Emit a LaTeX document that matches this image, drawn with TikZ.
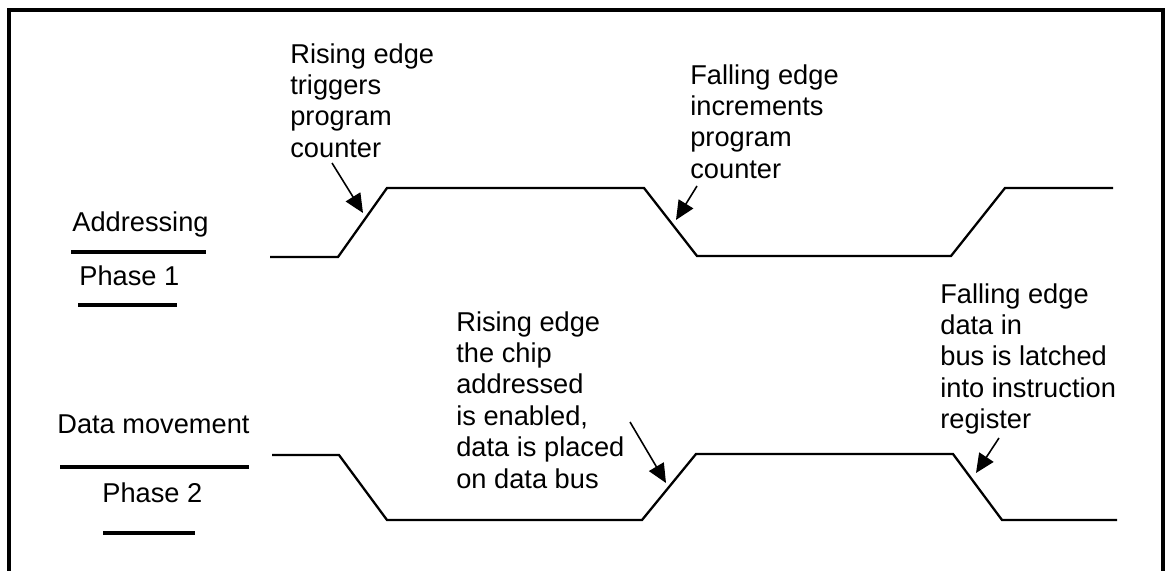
\documentclass[tikz,border=0pt]{standalone}
\usepackage{fontspec}
\setmainfont{Liberation Sans}
\usepackage{tikz}
\usetikzlibrary{arrows.meta, positioning, calc}
\tikzset{
  lbl/.style={inner sep=0pt, font=\fontsize{15.5}{17.9}\selectfont},
  note/.style={lbl, anchor=north west, align=left},
  phase/.style={lbl, anchor=base west},
  wave/.style={line width=1.3pt, line join=miter},
  uline/.style={line width=2pt},
  frame/.style={line width=1.8pt},
  ptr/.style={-{Triangle[length=0.38cm, width=0.34cm]}, line width=0.9pt},
}

\begin{document}
\begin{tikzpicture}[x=0.02cm, y=-0.02cm]
  \useasboundingbox (0,0) rectangle (1167,571);
  \draw[frame] (9,571) -- (9,10) -- (1163,10) -- (1163,571);

  \node[phase] (addr) at (72,232) {Addressing};
  \node[phase] (ph1) at (79,285) {Phase 1};
  \node[phase] (dmov) at (57,433) {Data movement};
  \node[phase] (ph2) at (102,502) {Phase 2};
  \draw[uline] (71,252) -- (206,252);
  \draw[uline] (78,305) -- (177,305);
  \draw[uline] (60,467) -- (249,467);
  \draw[uline] (103,533) -- (195,533);

  \draw[wave] (270,257) -- (338,257) -- (387,188) -- (644,188) -- (697,256)
    -- (951,256) -- (1005,188) -- (1113,188);
  \draw[wave] (272,455) -- (339,455) -- (387,520) -- (642,520) -- (696,454)
    -- (953,454) -- (1002,520) -- (1117,520);

  \node[note] (rise1) at (290,43) {Rising edge\\triggers\\program\\counter};
  \node[note] (fall1) at (690,64) {Falling edge\\increments\\program\\counter};
  \node[note] (rise2) at (456,311) {Rising edge\\the chip\\addressed\\is enabled,\\data is placed\\on data bus};
  \node[note] (fall2) at (940,283) {Falling edge\\data in\\bus is latched\\into instruction\\register};

  \coordinate (r1a) at (332,163); \coordinate (r1b) at (363,213);
  \coordinate (f1a) at (697,186); \coordinate (f1b) at (676,220);
  \coordinate (r2a) at (630,422); \coordinate (r2b) at (666,483);
  \coordinate (f2a) at (999,438); \coordinate (f2b) at (976,473);
  \draw[ptr] (r1a) -- (r1b);
  \draw[ptr] (f1a) -- (f1b);
  \draw[ptr] (r2a) -- (r2b);
  \draw[ptr] (f2a) -- (f2b);
\end{tikzpicture}
\end{document}
